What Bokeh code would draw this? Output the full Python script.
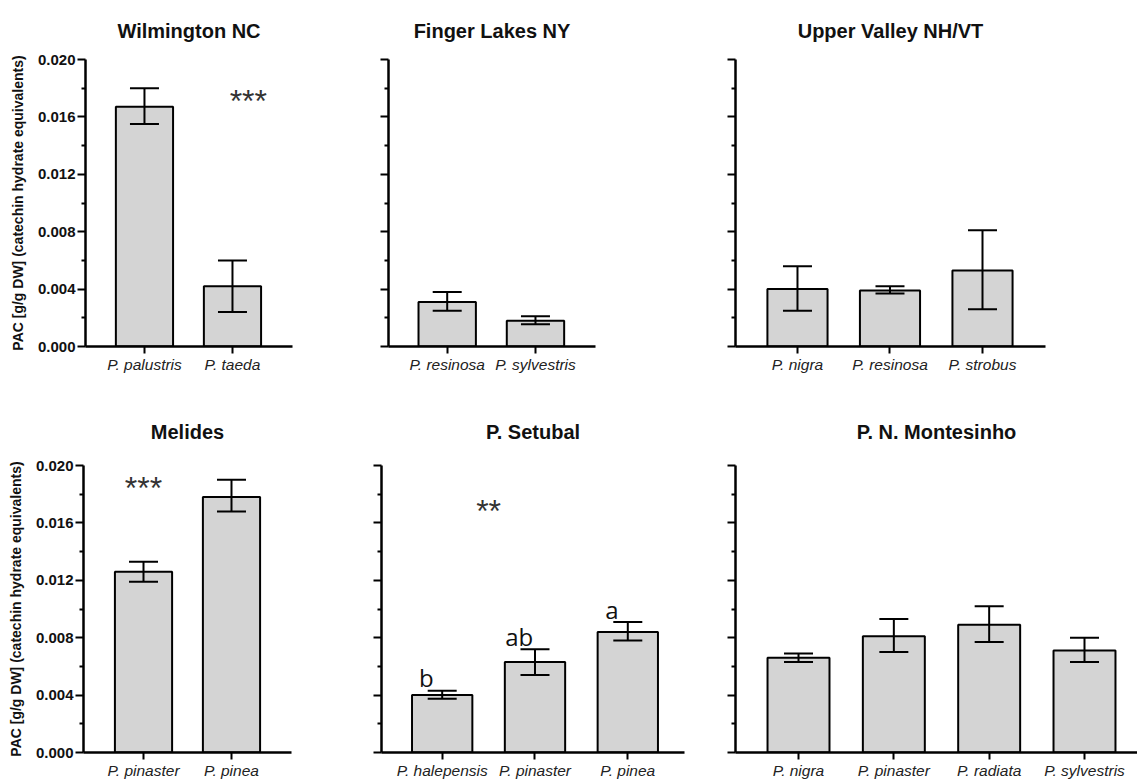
from bokeh.plotting import figure
from bokeh.layouts import row, column
from bokeh.models import (ColumnDataSource, Range1d, FixedTicker, NumeralTickFormatter,
                          CustomJSTickFormatter, Whisker, TeeHead)
from bokeh.core.properties import value
from bokeh.embed import file_html
from bokeh.resources import INLINE

# ---------------- data ----------------
wil_species = ["P. palustris", "P. taeda"]
wil_mean = [0.0167, 0.0042]
wil_lo = [0.0155, 0.0024]
wil_hi = [0.0180, 0.0060]

fin_species = ["P. resinosa", "P. sylvestris"]
fin_mean = [0.0031, 0.0018]
fin_lo = [0.0025, 0.00155]
fin_hi = [0.0038, 0.0021]

upv_species = ["P. nigra", "P. resinosa", "P. strobus"]
upv_mean = [0.0040, 0.0039, 0.0053]
upv_lo = [0.0025, 0.0037, 0.0026]
upv_hi = [0.0056, 0.0042, 0.0081]

mel_species = ["P. pinaster", "P. pinea"]
mel_mean = [0.0126, 0.0178]
mel_lo = [0.0119, 0.0168]
mel_hi = [0.0133, 0.0190]

set_species = ["P. halepensis", "P. pinaster", "P. pinea"]
set_mean = [0.0040, 0.0063, 0.0084]
set_lo = [0.00375, 0.0054, 0.0078]
set_hi = [0.0043, 0.0072, 0.0091]
set_letters = ["b", "ab", "a"]

mon_species = ["P. nigra", "P. pinaster", "P. radiata", "P. sylvestris"]
mon_mean = [0.0066, 0.0081, 0.0089, 0.0071]
mon_lo = [0.0063, 0.0070, 0.0077, 0.0063]
mon_hi = [0.0069, 0.0093, 0.0102, 0.0080]

y_ticks = [0.000, 0.004, 0.008, 0.012, 0.016, 0.020]
y_minor = [0.002, 0.006, 0.010, 0.014, 0.018]
y_label = "PAC [g/g DW] (catechin hydrate equivalents)"

FONT = "Liberation Sans"


def panel(title, species, mean, lo, hi, width, height, left, right, top, bottom,
          xstart, xend, ylabels, t_standoff, t_valign):
    p = figure(width=width, height=height, min_border_left=left, min_border_right=right,
               min_border_top=top, min_border_bottom=bottom,
               x_range=Range1d(xstart, xend), y_range=Range1d(0, 0.020),
               output_backend="svg", toolbar_location=None, title=title)
    x = list(range(len(species)))
    src = ColumnDataSource(dict(x=x, top=mean, lo=lo, hi=hi))
    p.vbar(x="x", top="top", bottom=0, width=0.65, source=src,
           fill_color="#d4d4d4", line_color="black", line_width=2)
    w = Whisker(base="x", upper="hi", lower="lo", source=src, line_color="black",
                line_width=2, level="annotation",
                upper_head=TeeHead(size=29, line_width=2, line_color="black"),
                lower_head=TeeHead(size=29, line_width=2, line_color="black"))
    p.add_layout(w)

    p.title.text_font = FONT
    p.title.text_font_style = "bold"
    p.title.text_font_size = "20px"
    p.title.align = "center"
    p.title.text_color = "#111111"
    p.title.standoff = t_standoff
    p.title.vertical_align = t_valign

    p.xgrid.visible = False
    p.ygrid.visible = False
    p.outline_line_color = None
    p.background_fill_color = "white"
    p.border_fill_color = "white"

    xa = p.below[0]
    xa.ticker = FixedTicker(ticks=x)
    xa.major_label_overrides = {i: s for i, s in enumerate(species)}
    xa.major_label_text_font = FONT
    xa.major_label_text_font_style = "italic"
    xa.major_label_text_font_size = "15.5px"
    xa.major_label_text_color = "#222222"
    xa.major_label_standoff = 2
    xa.major_tick_in = 0
    xa.major_tick_out = 7
    xa.major_tick_line_width = 2
    xa.minor_tick_line_color = None
    xa.axis_line_width = 2.5

    ya = p.left[0]
    ya.ticker = FixedTicker(ticks=y_ticks, minor_ticks=y_minor)
    ya.major_tick_in = 0
    ya.major_tick_out = 8
    ya.minor_tick_in = 0
    ya.minor_tick_out = 4
    ya.major_tick_line_width = 2
    ya.minor_tick_line_width = 2
    ya.axis_line_width = 2.5
    ya.major_label_standoff = 2
    ya.major_label_text_font = FONT
    ya.major_label_text_font_style = "bold"
    ya.major_label_text_font_size = "15px"
    ya.major_label_text_color = "#111111"
    if ylabels:
        ya.formatter = NumeralTickFormatter(format="0.000")
        ya.axis_label = y_label
        ya.axis_label_text_font = FONT
        ya.axis_label_text_font_style = "bold"
        ya.axis_label_text_font_size = "14px"
        ya.axis_label_text_color = "#111111"
        ya.axis_label_standoff = 9
    else:
        ya.formatter = CustomJSTickFormatter(code="return ''")
    return p


def stars(p, x, y, txt):
    p.text(x=[x], y=[y], text=[txt], text_font=value(FONT), text_font_size="32px",
           text_align="center", text_baseline="middle", text_color="#333333")


# Row 1 (page y 0 -> 385), frames 59 -> 346
f1 = panel("Wilmington NC", wil_species, wil_mean, wil_lo, wil_hi,
           330, 385, 85, 38, 59, 39, -0.670, 1.682, True, 32, "top")
stars(f1, 1.18, 0.0171, "***")

f2 = panel("Finger Lakes NY", fin_species, fin_mean, fin_lo, fin_hi,
           360, 385, 58, 95, 59, 39, -0.665, 1.680, False, 32, "top")

f3 = panel("Upper Valley NH/VT", upv_species, upv_mean, upv_lo, upv_hi,
           447, 385, 45, 92, 59, 39, -0.670, 2.681, False, 32, "top")

# Row 2 (page y 385 -> 781), frames 465 -> 752
f4 = panel("Melides", mel_species, mel_mean, mel_lo, mel_hi,
           330, 396, 83, 39, 80, 29, -0.682, 1.682, True, 46, "bottom")
stars(f4, 0.0, 0.0184, "***")

f5 = panel("P. Setubal", set_species, set_mean, set_lo, set_hi,
           360, 396, 51, 6, 80, 29, -0.654, 2.611, False, 46, "bottom")
stars(f5, 0.5, 0.0168, "**")
f5.text(x=[i - 0.17 for i in range(len(set_letters))],
        y=[h + 0.0009 for h in set_hi], text=set_letters,
        text_font=value("Open Sans"), text_font_size="24px",
        text_align="center", text_baseline="alphabetic", text_color="#111111")

f6 = panel("P. N. Montesinho", mon_species, mon_mean, mon_lo, mon_hi,
           447, 396, 45, 0, 80, 29, -0.661, 3.556, False, 46, "bottom")

layout = column(row(f1, f2, f3, spacing=0), row(f4, f5, f6, spacing=0), spacing=0)

open("out.html", "w").write(file_html(layout, INLINE))
